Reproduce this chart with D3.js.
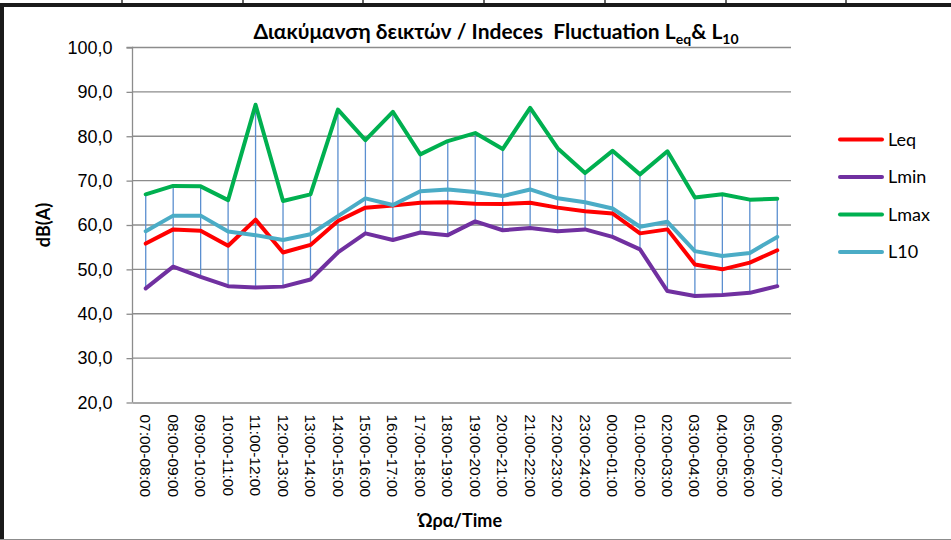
<!DOCTYPE html>
<html>
<head>
<meta charset="utf-8">
<script src="https://cdn.jsdelivr.net/npm/d3@7"></script>
<style>
  body { margin: 0; background: #fff; }
  svg { display: block; font-family: Lato, "Noto Sans", sans-serif; }
</style>
</head>
<body>
<svg width="951" height="540"></svg>
<script>
// Hour slots along the x axis
let hours = ["07:00-08:00", "08:00-09:00", "09:00-10:00", "10:00-11:00", "11:00-12:00",
    "12:00-13:00", "13:00-14:00", "14:00-15:00", "15:00-16:00", "16:00-17:00",
    "17:00-18:00", "18:00-19:00", "19:00-20:00", "20:00-21:00", "21:00-22:00",
    "22:00-23:00", "23:00-24:00", "00:00-01:00", "01:00-02:00", "02:00-03:00",
    "03:00-04:00", "04:00-05:00", "05:00-06:00", "06:00-07:00"];

// Values, dB(A)
let leq  = [55.7, 58.9, 58.6, 55.2, 61.1, 53.7, 55.4, 60.8, 63.8, 64.3, 64.9, 65.0,
    64.7, 64.6, 64.9, 63.8, 63.0, 62.5, 58.0, 58.9, 51.0, 49.9, 51.4, 54.2];
let lmin = [45.6, 50.5, 48.2, 46.1, 45.8, 46.0, 47.6, 53.7, 58.0, 56.5, 58.2, 57.6,
    60.7, 58.7, 59.2, 58.5, 58.9, 57.2, 54.4, 45.0, 43.9, 44.1, 44.6, 46.1];
let lmax = [66.8, 68.7, 68.6, 65.5, 87.0, 65.3, 66.8, 85.9, 79.0, 85.4, 75.8, 78.8,
    80.6, 77.0, 86.3, 77.2, 71.6, 76.6, 71.3, 76.5, 66.1, 66.8, 65.6, 65.8];
let l10  = [58.5, 62.0, 62.0, 58.4, 57.6, 56.5, 57.8, 61.9, 65.9, 64.4, 67.5, 67.9,
    67.3, 66.4, 67.9, 65.9, 65.0, 63.6, 59.5, 60.6, 54.0, 52.9, 53.6, 57.2];

let seriesNames = ["Leq", "Lmin", "Lmax", "L10"];
let yTicks = [20, 30, 40, 50, 60, 70, 80, 90, 100];

let series = [
    { name: "Leq", values: leq, color: "#ff0000" },
    { name: "Lmin", values: lmin, color: "#7030a0" },
    { name: "Lmax", values: lmax, color: "#00b050" },
    { name: "L10", values: l10, color: "#4bacc6" }
];

let margin = { top: 47, left: 132 },
    width = 659,
    height = 355;

let svg = d3.select("svg");

// chart frame (as in the spreadsheet)
svg.append("rect").attr("x", 0).attr("y", 3).attr("width", 951).attr("height", 4).attr("fill", "#1a1a1a");
svg.append("rect").attr("x", 0).attr("y", 3).attr("width", 4).attr("height", 537).attr("fill", "#1a1a1a");
svg.append("line").attr("x1", 0).attr("x2", 951).attr("y1", 539.5).attr("y2", 539.5).attr("stroke", "#8c8c8c");
[122, 243, 363, 484, 605, 726, 846].forEach(function (x) {
    svg.append("line").attr("x1", x).attr("x2", x).attr("y1", 0).attr("y2", 3)
        .attr("stroke", "#333").attr("stroke-width", 1.5);
});

let g = svg.append("g").attr("transform", "translate(" + margin.left + "," + margin.top + ")");

let x = d3.scaleBand().domain(hours).range([0, width]);
let y = d3.scaleLinear().domain([20, 100]).range([height, 0]);

// gridlines
g.append("g")
    .selectAll("line")
    .data(yTicks.slice(1))
    .enter().append("line")
    .attr("x1", 0).attr("x2", width)
    .attr("y1", function (d) { return y(d) + 0.5; })
    .attr("y2", function (d) { return y(d) + 0.5; })
    .attr("stroke", "#8c8c8c")
    .attr("stroke-width", 1.3);

// y axis
let yAxis = g.append("g")
    .attr("transform", "translate(0.5,0.5)")
    .call(d3.axisLeft(y).tickValues(yTicks).tickSize(6).tickPadding(14)
        .tickFormat(function (d) { return d3.format(".1f")(d).replace(".", ","); }));
yAxis.select(".domain").attr("stroke", "#8c8c8c").attr("stroke-width", 1.3).attr("d", "M-6," + 0 + "H0V" + height);
yAxis.selectAll(".tick line").attr("stroke", "#8c8c8c").attr("stroke-width", 1.3);
yAxis.selectAll("text").attr("font-size", 18).attr("fill", "#000");

// x axis
let xAxis = g.append("g")
    .attr("transform", "translate(0," + (height + 0.5) + ")")
    .call(d3.axisBottom(x).tickSize(0).tickPadding(0));
xAxis.select(".domain").attr("stroke", "#8c8c8c").attr("stroke-width", 1.3);
xAxis.selectAll("text")
    .attr("font-size", 15.5)
    .attr("fill", "#000")
    .attr("text-anchor", "start")
    .attr("dy", "0.35em")
    .attr("transform", "translate(0,12) rotate(90)");

// high-low lines
g.append("g")
    .selectAll("line")
    .data(hours)
    .enter().append("line")
    .attr("x1", function (d) { return x(d) + x.bandwidth() / 2; })
    .attr("x2", function (d) { return x(d) + x.bandwidth() / 2; })
    .attr("y1", function (d, i) { return y(d3.max(series, function (s) { return s.values[i]; })); })
    .attr("y2", function (d, i) { return y(d3.min(series, function (s) { return s.values[i]; })); })
    .attr("stroke", "#5b8fd0")
    .attr("stroke-width", 1.3);

let line = d3.line()
    .x(function (d, i) { return x(hours[i]) + x.bandwidth() / 2; })
    .y(function (d) { return y(d); });

g.append("g")
    .selectAll("path")
    .data(series)
    .enter().append("path")
    .attr("d", function (d) { return line(d.values); })
    .attr("fill", "none")
    .attr("stroke", function (d) { return d.color; })
    .attr("stroke-width", 4)
    .attr("stroke-linejoin", "round")
    .attr("stroke-linecap", "round");

// title
let title = svg.append("text")
    .attr("x", 496)
    .attr("y", 39)
    .attr("text-anchor", "middle")
    .attr("font-size", 21)
    .attr("font-weight", "bold")
    .attr("fill", "#000")
    .style("white-space", "pre");
title.append("tspan").text("Διακύμανση δεικτών / Indeces  Fluctuation L");
title.append("tspan").attr("font-size", 14).attr("dy", 5).text("eq");
title.append("tspan").attr("dy", -5).text("& L");
title.append("tspan").attr("font-size", 14).attr("dy", 5).text("10");

// axis titles
svg.append("text")
    .attr("transform", "translate(50,225) rotate(-90)")
    .attr("text-anchor", "middle")
    .attr("font-size", 18)
    .attr("font-weight", "bold")
    .text("dB(A)");

svg.append("text")
    .attr("x", 460)
    .attr("y", 527)
    .attr("text-anchor", "middle")
    .attr("font-size", 18)
    .attr("font-weight", "bold")
    .text("Ώρα/Time");

// legend
let legend = svg.append("g")
    .selectAll("g")
    .data(series)
    .enter().append("g")
    .attr("transform", function (d, i) {
        return "translate(840," + (139.5 + i * 37.5) + ")";
    });
legend.append("line")
    .attr("x1", 0).attr("x2", 42)
    .attr("stroke", function (d) { return d.color; })
    .attr("stroke-width", 4)
    .attr("stroke-linecap", "round");
legend.append("text")
    .attr("x", 48)
    .attr("dy", "0.35em")
    .attr("font-size", 18)
    .text(function (d) { return d.name; });
</script>
</body>
</html>
